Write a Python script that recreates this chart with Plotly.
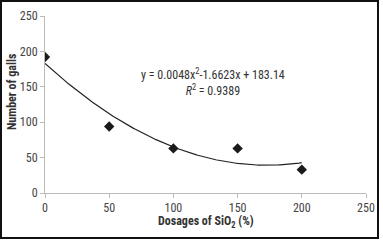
import plotly.graph_objects as go
import numpy as np

dosages = [0, 50, 100, 150, 200]
galls = [192, 94, 63, 63, 33]
trend_coef = [0.0048, -1.6623, 183.14]  # y = a x^2 + b x + c (from chart label)
x_ticks = [0, 50, 100, 150, 200, 250]
y_ticks = [0, 50, 100, 150, 200, 250]

xs = np.linspace(min(dosages), max(dosages), 201)
ys = np.polyval(trend_coef, xs)

FONT = "Liberation Sans Narrow, Arial Narrow, Roboto Condensed, sans-serif"

fig = go.Figure()
fig.add_trace(go.Scatter(x=xs, y=ys, mode="lines",
                         line=dict(color="#222222", width=1.2), hoverinfo="skip"))
fig.add_trace(go.Scatter(x=dosages, y=galls, mode="markers",
                         marker=dict(symbol="diamond", size=8, color="#1a1a1a")))

L, R, T, B = 45, 17, 16, 48
W, H = 383, 241
pw, ph = W - L - R, H - T - B

def px(x):
    return (x - L) / pw

def py(y):
    return (H - B - y) / ph

fig.add_shape(type="rect", xref="paper", yref="paper",
              x0=px(1), x1=px(378), y0=py(238), y1=py(1),
              line=dict(color="#111111", width=2), layer="above")

fig.add_annotation(x=px(213), y=py(82), xref="paper", yref="paper",
                   xanchor="center", yanchor="middle",
                   text="y = 0.0048x<sup>2</sup>-1.6623x + 183.14<br><i>R</i><sup>2</sup> = 0.9389",
                   showarrow=False, font=dict(family=FONT, size=12, color="#333333"),
                   align="center")

fig.add_annotation(x=px(206), y=py(222), xref="paper", yref="paper",
                   xanchor="center", yanchor="middle",
                   text="<b>Dosages of SiO<sub>2</sub> (%)</b>",
                   showarrow=False, font=dict(family=FONT, size=12, color="#333333"))
fig.add_annotation(x=px(12), y=py(92), xref="paper", yref="paper",
                   xanchor="center", yanchor="middle",
                   text="<b>Number of galls</b>", textangle=-90,
                   showarrow=False, font=dict(family=FONT, size=12, color="#333333"))

fig.update_layout(
    width=W, height=H, margin=dict(l=L, r=R, t=T, b=B, autoexpand=False),
    paper_bgcolor="white", plot_bgcolor="white", showlegend=False,
    font=dict(family=FONT, size=12, color="#444444"),
    xaxis=dict(range=[0, 250], tickvals=x_ticks, showgrid=False, zeroline=False,
               showline=True, linecolor="#bbbbbb", linewidth=1, automargin=False,
               ticks="outside", ticklen=4, tickcolor="#bbbbbb",
               tickfont=dict(size=12, color="#444444")),
    yaxis=dict(range=[0, 250], tickvals=y_ticks, showgrid=False, zeroline=False,
               showline=True, linecolor="#bbbbbb", linewidth=1, automargin=False,
               ticks="outside", ticklen=4, tickcolor="#bbbbbb",
               tickfont=dict(size=12, color="#444444")),
)

fig.write_html("out.html", config={"displayModeBar": False},
               post_script="document.body.style.margin='0';")
